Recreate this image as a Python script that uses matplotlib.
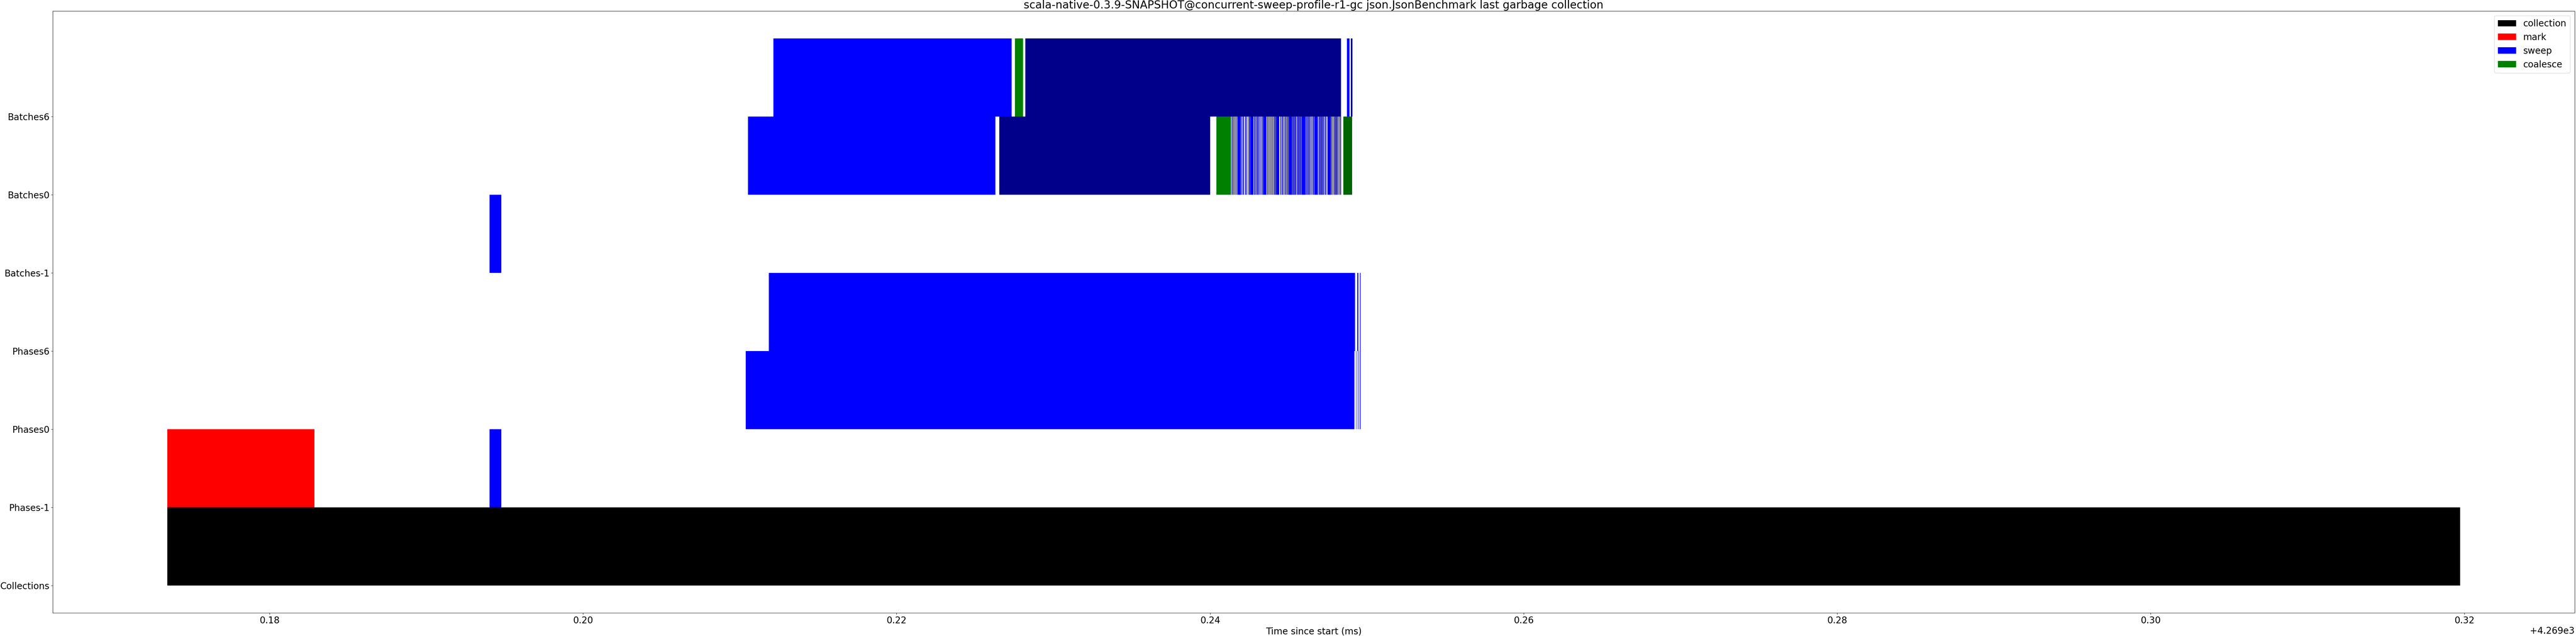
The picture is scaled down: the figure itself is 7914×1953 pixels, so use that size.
import matplotlib
matplotlib.use('Agg')
from matplotlib import pyplot as plt
from matplotlib.patches import Patch

rows = ['Collections', 'Phases-1', 'Phases0', 'Phases6',
        'Batches-1', 'Batches0', 'Batches6']

# (row, start ms, end ms, kind)
segments = [
  (0, 4269.17349, 4269.31973, 'collection'),
  (1, 4269.17349, 4269.18288, 'mark'),
  (1, 4269.19405, 4269.19478, 'sweep'),
  (2, 4269.21038, 4269.249211, 'sweep'),
  (2, 4269.249309, 4269.249336, 'sweep_alt'),
  (2, 4269.249413, 4269.249440, 'sweep'),
  (2, 4269.249475, 4269.249502, 'sweep_alt'),
  (2, 4269.249564, 4269.249591, 'sweep'),
  (3, 4269.21186, 4269.249253, 'sweep'),
  (3, 4269.249398, 4269.249461, 'sweep_alt'),
  (3, 4269.249564, 4269.249606, 'sweep'),
  (4, 4269.19405, 4269.19478, 'sweep'),
  (5, 4269.21053, 4269.22630, 'sweep'),
  (5, 4269.22655, 4269.24000, 'sweep_alt'),
  (5, 4269.24041, 4269.24133, 'coalesce'),
  (5, 4269.24851, 4269.24905, 'coalesce_alt'),
  (6, 4269.21215, 4269.22734, 'sweep'),
  (6, 4269.22755, 4269.22806, 'coalesce'),
  (6, 4269.22821, 4269.24836, 'sweep_alt'),
  (6, 4269.24873, 4269.24890, 'sweep'),
  (6, 4269.24898, 4269.24909, 'sweep_alt'),
]

# the many small sweep batches on thread 0 (row Batches0)
stripe_start = [
  4269.241384, 4269.241488, 4269.241571, 4269.241654, 4269.241737,
  4269.241979, 4269.242062, 4269.242124, 4269.242228, 4269.242290,
  4269.242366, 4269.242456, 4269.242546, 4269.242802, 4269.242871,
  4269.242961, 4269.243044, 4269.243148, 4269.243217, 4269.243300,
  4269.243376, 4269.243632, 4269.243715, 4269.243798, 4269.243881,
  4269.243964, 4269.244047, 4269.244116, 4269.244206, 4269.244462,
  4269.244545, 4269.244614, 4269.244690, 4269.244773, 4269.244850,
  4269.244926, 4269.245016, 4269.245271, 4269.245348, 4269.245431,
  4269.245521, 4269.245597, 4269.245680, 4269.245763, 4269.245846,
  4269.246102, 4269.246171, 4269.246240, 4269.246309, 4269.246406,
  4269.246489, 4269.246572, 4269.246655, 4269.246918, 4269.246994,
  4269.247070, 4269.247153, 4269.247229, 4269.247312, 4269.247381,
  4269.247485, 4269.247727, 4269.247810, 4269.247893, 4269.247963,
  4269.248053, 4269.248122, 4269.248205, 4269.248288,
]
stripe_end = [
  4269.241446, 4269.241529, 4269.241612, 4269.241695, 4269.241965,
  4269.242020, 4269.242103, 4269.242166, 4269.242269, 4269.242332,
  4269.242387, 4269.242525, 4269.242774, 4269.242843, 4269.242913,
  4269.243009, 4269.243099, 4269.243189, 4269.243265, 4269.243348,
  4269.243604, 4269.243687, 4269.243770, 4269.243840, 4269.243923,
  4269.244006, 4269.244089, 4269.244172, 4269.244414, 4269.244511,
  4269.244587, 4269.244663, 4269.244739, 4269.244822, 4269.244891,
  4269.244995, 4269.245244, 4269.245320, 4269.245403, 4269.245486,
  4269.245569, 4269.245645, 4269.245728, 4269.245818, 4269.246081,
  4269.246150, 4269.246219, 4269.246288, 4269.246358, 4269.246454,
  4269.246537, 4269.246634, 4269.246883, 4269.246966, 4269.247042,
  4269.247125, 4269.247208, 4269.247285, 4269.247361, 4269.247430,
  4269.247713, 4269.247783, 4269.247859, 4269.247935, 4269.248018,
  4269.248101, 4269.248170, 4269.248253, 4269.248357,
]
stripe_kind = [
  's', 'a', 's', 'a', 's', 'a', 's', 'a', 's', 'a', 's', 'a',
  's', 'a', 's', 'a', 's', 'a', 's', 'a',
  's', 'a', 's', 'a', 's', 'a', 's', 'a',
  's', 'a', 's', 'a', 's', 'a', 's', 'a',
  's', 'a', 's', 'a', 's', 'a', 's', 'a',
  's', 'a', 's', 'a', 's', 'a', 's', 'a',
  's', 'a', 's', 'a', 's', 'a', 's', 'a',
  's', 'a', 's', 'a', 's', 'a', 's', 'a', 's',
]

legend_names = ['collection', 'mark', 'sweep', 'coalesce']

colors = {
  'collection': 'black',
  'mark': 'red',
  'sweep': 'blue',
  'sweep_alt': 'darkblue',
  'coalesce': 'green',
  'coalesce_alt': 'darkgreen',
}

plt.rcParams['font.size'] = 20

fig = plt.figure(figsize=(79.14, 19.53), dpi=100)
ax = fig.add_axes([0.02047, 0.03635, 0.97902, 0.94624])

for row, start, end, kind in segments:
  ax.broken_barh([(start, end - start)], (row, 1),
    facecolors=colors[kind], linewidth=0)

kind_map = {'s': 'sweep', 'a': 'sweep_alt'}
for start, end, k in zip(stripe_start, stripe_end, stripe_kind):
  ax.broken_barh([(start, end - start)], (rows.index('Batches0'), 1),
    facecolors=colors[kind_map[k]], linewidth=0)

ax.set_yticks(range(len(rows)))
ax.set_yticklabels(rows)
ax.set_xlabel('Time since start (ms)')
ax.set_title('scala-native-0.3.9-SNAPSHOT@concurrent-sweep-profile-r1-gc '
  'json.JsonBenchmark last garbage collection')

handles = [Patch(facecolor=colors[n], label=n) for n in legend_names]
ax.legend(handles=handles, loc='upper right')

fig.savefig('out.png', dpi=100)
